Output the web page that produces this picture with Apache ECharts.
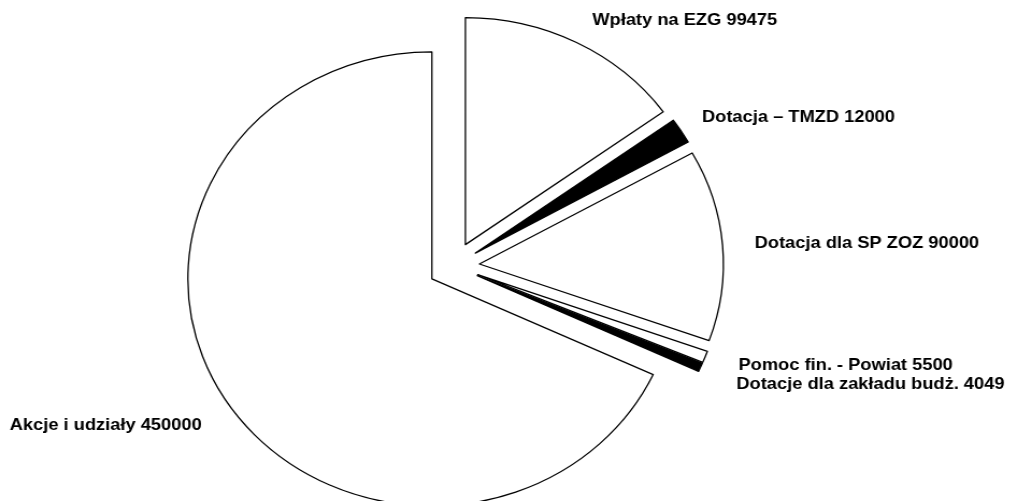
<!DOCTYPE html>
<html>
<head>
<meta charset="utf-8">
<script src="https://cdn.jsdelivr.net/npm/echarts@6/dist/echarts.min.js"></script>
<style>
  html, body { margin: 0; padding: 0; background: #fff; overflow: hidden; }
  /* the scanned original is stretched a little in width */
  #main { width: 941px; height: 501px; transform: scale(1.075, 1); transform-origin: 0 0; }
</style>
</head>
<body>
<div id="main"></div>
<script>
var names = [
    'Wpłaty na EZG',
    'Dotacja – TMZD',
    'Dotacja dla SP ZOZ',
    'Pomoc fin. - Powiat',
    'Dotacje dla zakładu budż.',
    'Akcje i udziały'
];
var values = [99475, 12000, 90000, 5500, 4049, 450000];
var fills = ['#fff', '#000', '#fff', '#fff', '#000', '#fff'];

// where the labels sit (left edge, middle), in chart pixels
var labelX = [551, 653, 702, 687, 685, 9];
var labelY = [20, 117, 243, 365, 384, 425];

var myChart = echarts.init(document.getElementById('main'));

var sliceData = [];
var labelData = [];
for (var i = 0; i < names.length; i++) {
    sliceData.push({name: names[i], value: values[i], selected: true, itemStyle: {color: fills[i]}});
    labelData.push({name: names[i], value: values[i]});
}

var pieBase = {
    type: 'pie',
    center: [422, 266],
    radius: [0, 227],
    startAngle: 90,
    clockwise: true,
    avoidLabelOverlap: false,
    emphasis: {disabled: true},
    labelLine: {show: false}
};

var option = {
    backgroundColor: '#fff',
    animation: false,
    series: [
        // the exploded slices
        echarts.util.merge({
            selectedMode: 'multiple',
            selectedOffset: 24,
            itemStyle: {borderColor: '#000', borderWidth: 1.3},
            select: {itemStyle: {borderColor: '#000', borderWidth: 1.3}},
            label: {show: false},
            data: sliceData
        }, pieBase),
        // same data again, invisible, only to carry the labels
        echarts.util.merge({
            silent: true,
            itemStyle: {color: 'rgba(0,0,0,0)', borderWidth: 0},
            label: {
                show: true,
                position: 'outside',
                color: '#000',
                fontFamily: 'Liberation Sans, Arial, sans-serif',
                fontWeight: 'bold',
                fontSize: 17,
                overflow: 'none',
                formatter: function (p) { return p.name + ' ' + p.value; }
            },
            labelLayout: function (p) {
                return {
                    x: labelX[p.dataIndex],
                    y: labelY[p.dataIndex],
                    align: 'left',
                    verticalAlign: 'middle',
                    width: 400
                };
            },
            data: labelData
        }, pieBase)
    ]
};
myChart.setOption(option);
</script>
</body>
</html>
